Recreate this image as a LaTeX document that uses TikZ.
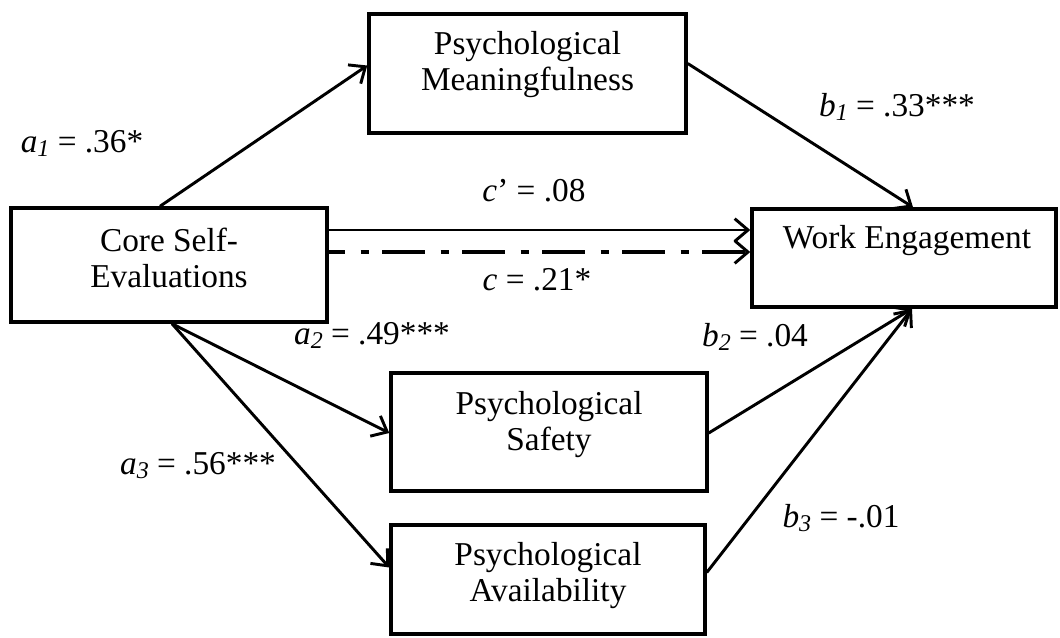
\documentclass[tikz,border=0pt]{standalone}
\usepackage{fontspec}
\setmainfont{Liberation Serif}
\usetikzlibrary{arrows.meta,calc}
\newcommand{\ssub}[1]{\raisebox{-0.12em}{\fontsize{18}{18}\selectfont\textit{#1}}}
\begin{document}
\begin{tikzpicture}[x=0.75pt,y=-0.75pt,
  box/.style={draw,line width=2.6pt,inner sep=0pt,rectangle},
  txt/.style={align=center,inner sep=0pt,font=\fontsize{25}{27}\selectfont},
  lab/.style={inner sep=0pt,font=\fontsize{25}{27}\selectfont},
  tip/.style={-{Straight Barb[length=10pt,width=17pt,line width=2.2pt]}},
  arr/.style={line width=2.2pt,tip},
  arrdd/.style={line width=3pt,dash pattern=on 32pt off 12pt on 6pt off 10pt,dash phase=20pt,tip}]
\useasboundingbox (0,0) rectangle (1060,637);

% boxes
\node[box,minimum width=237pt,minimum height=85.5pt] (cse) at (169,265) {};
\node[box,minimum width=237.75pt,minimum height=89.25pt] (m) at (527.5,73.5) {};
\node[box,minimum width=228pt,minimum height=73.5pt] (we) at (904,258) {};
\node[box,minimum width=237pt,minimum height=88.5pt] (s) at (549,432) {};
\node[box,minimum width=235.5pt,minimum height=81.75pt] (av) at (548,579.5) {};

% box texts
\node[txt] (cset) at (169,257.5) {Core Self-\\Evaluations};
\node[txt] (mt) at (527.5,65) {Psychological\\Meaningfulness};
\node[txt] (wet) at (907,241) {Work Engagement};
\node[txt] (st) at (549,424.5) {Psychological\\Safety};
\node[txt] (avt) at (548,575.5) {Psychological\\Availability};

% connectors
\draw[arr] ($(cse.north)+(-9,0)$) -- ($(m.west)+(0,-8)$);
\draw[arr] ($(m.east)+(0,-10)$) -- ($(we.north)+(9,0)$);
\draw[arr] ($(cse.east)+(0,-35)$) -- ($(we.west)+(0,-28)$);
\draw[arrdd] ($(cse.east)+(0,-13)$) -- ($(we.west)+(0,-6)$);
\draw[arr] ($(cse.south)+(3,0)$) -- ($(s.west)+(0,1)$);
\draw[arr] ($(cse.south)+(3,0)$) -- ($(av.west)+(0,-12)$);
\draw[arr] ($(s.east)+(0,1)$) -- ($(we.south)+(8,0)$);
\draw[arr] ($(av.east)+(0,-7)$) -- ($(we.south)+(8,0)$);

% labels
\node[lab] (la1) at (82,143) {\textit{a}\ssub{1} = .36*};
\node[lab] (lb1) at (897,107) {\textit{b}\ssub{1} = .33***};
\node[lab] (lcp) at (534,191) {\textit{c}’ = .08};
\node[lab] (lc) at (537,280) {\textit{c} = .21*};
\node[lab] (la2) at (372,335) {\textit{a}\ssub{2} = .49***};
\node[lab] (lb2) at (755,337) {\textit{b}\ssub{2} = .04};
\node[lab] (la3) at (198,466) {\textit{a}\ssub{3} = .56***};
\node[lab] (lb3) at (841,518) {\textit{b}\ssub{3} = -.01};
\end{tikzpicture}
\end{document}
